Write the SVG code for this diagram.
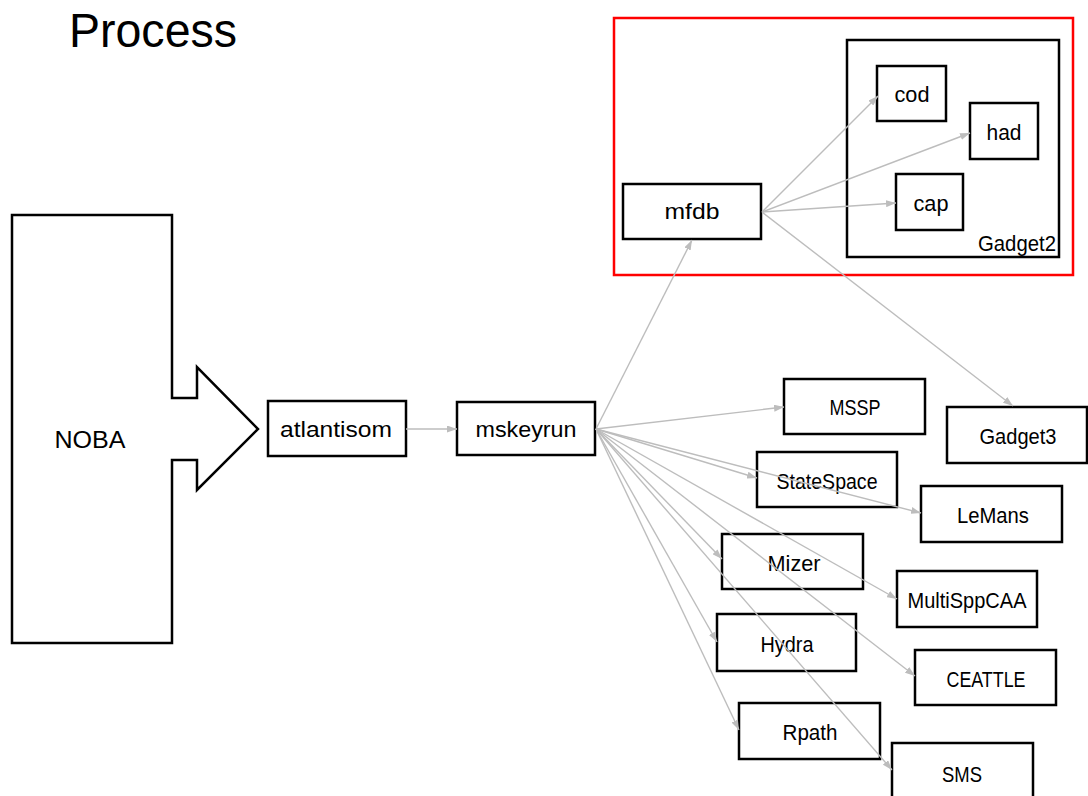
<svg xmlns="http://www.w3.org/2000/svg" width="1088" height="796" viewBox="0 0 1088 796">
  <style>
    .box { fill: #ffffff; stroke: #000000; stroke-width: 2.5; }
    .lbl { font-family: "Liberation Sans", Arial, sans-serif; font-size: 22px; fill: #000000; text-anchor: middle; }
    .edge { fill: none; stroke: #bdbdbd; stroke-width: 1.4; marker-end: url(#arr); }
  </style>
  <defs>
    <marker id="arr" viewBox="0 0 10 7" refX="10" refY="3.5" markerWidth="10" markerHeight="7" markerUnits="userSpaceOnUse" orient="auto">
      <path d="M0,0 L10,3.5 L0,7 z" fill="#bdbdbd"/>
    </marker>
  </defs>

  <rect width="1088" height="796" fill="#ffffff"/>

  <text x="69" y="47" font-family="'Liberation Sans', Arial, sans-serif" font-size="48" textLength="168" lengthAdjust="spacingAndGlyphs" fill="#000">Process</text>

  <!-- highlighted mfdb / Gadget2 region -->
  <rect id="highlight" x="614" y="18" width="459" height="257" fill="none" stroke="#ff0000" stroke-width="2.5"/>

  <!-- Gadget2 container -->
  <g id="gadget2">
    <rect class="box" x="847" y="40" width="212" height="217"/>
    <text class="lbl" x="1017" y="251" textLength="78" lengthAdjust="spacingAndGlyphs">Gadget2</text>
  </g>

  <g id="noba">
    <path class="box" d="M12,215 H172 V398 H197 V367 L258,429 L197,490 V460 H172 V643 H12 Z"/>
    <text class="lbl" x="90" y="448" style="font-size:24px" textLength="71" lengthAdjust="spacingAndGlyphs">NOBA</text>
  </g>

  <g id="atlantisom">
    <rect class="box" x="268" y="401" width="138" height="55"/>
    <text class="lbl" x="336" y="437" textLength="112" lengthAdjust="spacingAndGlyphs">atlantisom</text>
  </g>

  <g id="mskeyrun">
    <rect class="box" x="457" y="402" width="138" height="53"/>
    <text class="lbl" x="526" y="437" textLength="101" lengthAdjust="spacingAndGlyphs">mskeyrun</text>
  </g>

  <g id="mfdb">
    <rect class="box" x="623" y="184" width="138" height="55"/>
    <text class="lbl" x="692" y="219" textLength="55" lengthAdjust="spacingAndGlyphs">mfdb</text>
  </g>

  <g id="cod">
    <rect class="box" x="877" y="66" width="69" height="55"/>
    <text class="lbl" x="912" y="102" textLength="35" lengthAdjust="spacingAndGlyphs">cod</text>
  </g>

  <g id="had">
    <rect class="box" x="970" y="103" width="68" height="56"/>
    <text class="lbl" x="1004" y="140" textLength="35" lengthAdjust="spacingAndGlyphs">had</text>
  </g>

  <g id="cap">
    <rect class="box" x="896" y="174" width="67" height="56"/>
    <text class="lbl" x="931" y="211" textLength="35" lengthAdjust="spacingAndGlyphs">cap</text>
  </g>

  <g id="mssp">
    <rect class="box" x="784" y="379" width="141" height="55"/>
    <text class="lbl" x="855" y="415" textLength="51" lengthAdjust="spacingAndGlyphs">MSSP</text>
  </g>

  <g id="gadget3">
    <rect class="box" x="947" y="407" width="140" height="56"/>
    <text class="lbl" x="1018" y="444" textLength="77" lengthAdjust="spacingAndGlyphs">Gadget3</text>
  </g>

  <g id="statespace">
    <rect class="box" x="757" y="452" width="140" height="55"/>
    <text class="lbl" x="827" y="489" textLength="101" lengthAdjust="spacingAndGlyphs">StateSpace</text>
  </g>

  <g id="lemans">
    <rect class="box" x="921" y="486" width="141" height="56"/>
    <text class="lbl" x="993" y="523" textLength="72" lengthAdjust="spacingAndGlyphs">LeMans</text>
  </g>

  <g id="mizer">
    <rect class="box" x="722" y="534" width="141" height="55"/>
    <text class="lbl" x="794" y="571" textLength="53" lengthAdjust="spacingAndGlyphs">Mizer</text>
  </g>

  <g id="multisppcaa">
    <rect class="box" x="897" y="571" width="140" height="56"/>
    <text class="lbl" x="967" y="608" textLength="119" lengthAdjust="spacingAndGlyphs">MultiSppCAA</text>
  </g>

  <g id="hydra">
    <rect class="box" x="717" y="614" width="139" height="57"/>
    <text class="lbl" x="787" y="652" textLength="53" lengthAdjust="spacingAndGlyphs">Hydra</text>
  </g>

  <g id="ceattle">
    <rect class="box" x="915" y="650" width="141" height="55"/>
    <text class="lbl" x="986" y="687" textLength="79" lengthAdjust="spacingAndGlyphs">CEATTLE</text>
  </g>

  <g id="rpath">
    <rect class="box" x="739" y="703" width="141" height="56"/>
    <text class="lbl" x="810" y="740" textLength="55" lengthAdjust="spacingAndGlyphs">Rpath</text>
  </g>

  <g id="sms">
    <rect class="box" x="892" y="743" width="141" height="60"/>
    <text class="lbl" x="962" y="782" textLength="40" lengthAdjust="spacingAndGlyphs">SMS</text>
  </g>

  <!-- connectors, drawn over the boxes -->
  <g id="connectors">
    <line class="edge" x1="406" y1="429" x2="457" y2="429"/>
    <line class="edge" x1="596" y1="429" x2="692" y2="240"/>
    <line class="edge" x1="596" y1="429" x2="784" y2="407"/>
    <line class="edge" x1="596" y1="429" x2="757" y2="478"/>
    <line class="edge" x1="596" y1="429" x2="921" y2="513"/>
    <line class="edge" x1="596" y1="429" x2="722" y2="559"/>
    <line class="edge" x1="596" y1="429" x2="897" y2="599"/>
    <line class="edge" x1="596" y1="429" x2="717" y2="642"/>
    <line class="edge" x1="596" y1="429" x2="915" y2="676"/>
    <line class="edge" x1="596" y1="429" x2="739" y2="730"/>
    <line class="edge" x1="596" y1="429" x2="892" y2="770"/>
    <line class="edge" x1="762" y1="212" x2="878" y2="96"/>
    <line class="edge" x1="762" y1="212" x2="970" y2="133"/>
    <line class="edge" x1="762" y1="212" x2="896" y2="203"/>
    <line class="edge" x1="762" y1="212" x2="1013" y2="406"/>
  </g>
</svg>
